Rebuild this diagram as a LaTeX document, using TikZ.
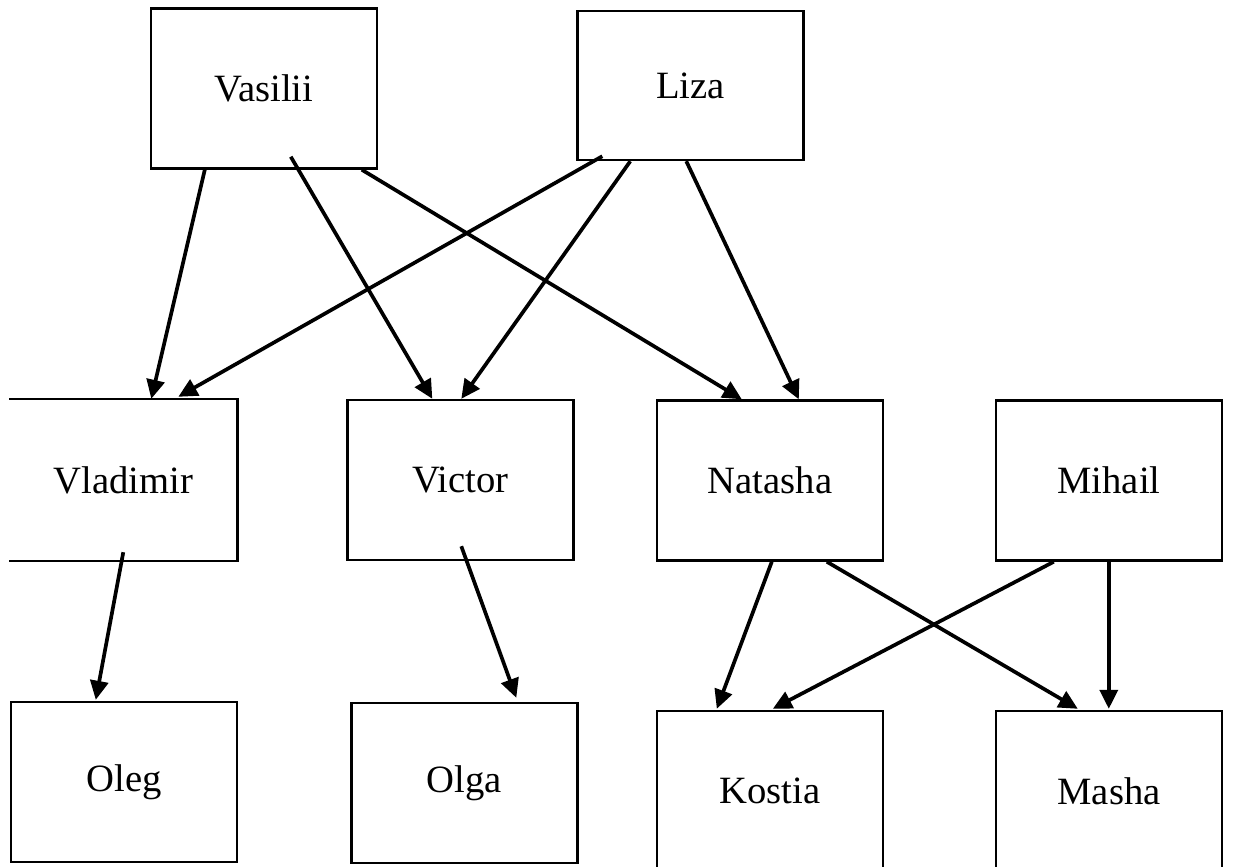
\documentclass[tikz,border=0pt]{standalone}
\usepackage{fontspec}
\setmainfont{Liberation Serif}
\usetikzlibrary{calc, arrows.meta}
\tikzset{
	personNode/.style={
		draw=black,
		line width=1.4pt,
		minimum width=4.52cm,
		minimum height=3.2cm,
		inner sep=0pt,
		font=\fontsize{22}{26}\selectfont,
		text = black
	},
	openNode/.style={
		personNode,
		draw=none
	},
	childEdge/.style={
		line width=2.1pt,
		-{Triangle[length=0.38cm, width=0.36cm]}
	},
}
\begin{document}
\begin{tikzpicture}[x=0.02cm, y=-0.02cm
    ,   sideLine/.style={line width=1.4pt}]
\useasboundingbox (0,0) rectangle (1236,866);

% parents
\node[personNode] (Vasilii) at (264,88.5){Vasilii};
\node[personNode, minimum height=2.98cm] (Liza) at (690.5,85.5){Liza};

% children
\node[openNode] (Vladimir) at (123.5,480){Vladimir};
\node[personNode] (Victor) at (460.5,480){Victor};
\node[personNode] (Natasha) at (770,480.5){Natasha};
\node[personNode] (Mihail) at (1109,480.5){Mihail};

% grandchildren
\node[personNode] (Oleg) at (124,782){Oleg};
\node[personNode] (Olga) at (464.5,783){Olga};
\node[personNode] (Kostia) at (770,791){Kostia};
\node[personNode] (Masha) at (1109,791){Masha};

% left side of Vladimir is cut off
\draw[sideLine] (Vladimir.north west) -- (Vladimir.north east) -- (Vladimir.south east) -- (Vladimir.south west);

\draw[childEdge] ($(Vasilii.south west)+(55,0)$) -- ($(Vladimir.north west)+(142,0)$);
\draw[childEdge] ($(Vasilii.south west)+(141,-13)$) -- ($(Victor.north west)+(86,0)$);
\draw[childEdge] ($(Vasilii.south west)+(212,0)$) -- ($(Natasha.north west)+(86,0)$);
\draw[childEdge] ($(Liza.south west)+(26,-5)$) -- ($(Vladimir.north west)+(169,-2)$);
\draw[childEdge] ($(Liza.south west)+(54,0)$) -- ($(Victor.north west)+(115,0)$);
\draw[childEdge] ($(Liza.south west)+(110,0)$) -- ($(Natasha.north west)+(143,0)$);

\draw[childEdge] ($(Vladimir.south west)+(114,-9)$) -- ($(Oleg.north west)+(86,-1)$);
\draw[childEdge] ($(Victor.south west)+(115,-15)$) -- ($(Olga.north west)+(166,-4)$);
\draw[childEdge] ($(Natasha.south west)+(116,0)$) -- ($(Kostia.north west)+(61,-1)$);
\draw[childEdge] ($(Natasha.south west)+(171,0)$) -- ($(Masha.north west)+(83,-1)$);
\draw[childEdge] ($(Mihail.south west)+(59,0)$) -- ($(Kostia.north west)+(117,-1)$);
\draw[childEdge] ($(Mihail.south west)+(114,0)$) -- ($(Masha.north west)+(114,-1)$);

\end{tikzpicture}
\end{document}
